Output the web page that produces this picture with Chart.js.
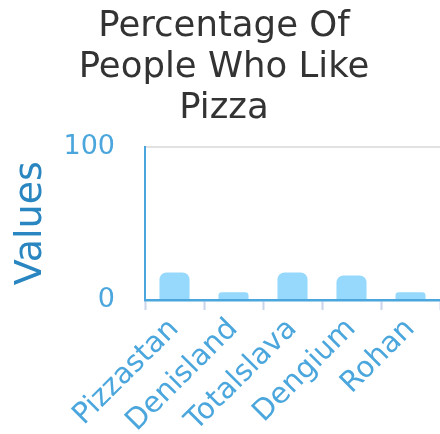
<!DOCTYPE html>
<html>
<head>
<meta charset="utf-8">
<script src="https://cdn.jsdelivr.net/npm/chart.js@4"></script>
<style>
  html, body { margin: 0; padding: 0; background: #fff; }
  #wrap { width: 440px; height: 434px; }
</style>
</head>
<body>
<div id="wrap"><canvas id="grafico"></canvas></div>
<script>
const paises = ['Pizzastan', 'Denisland', 'Totalslava', 'Dengium', 'Rohan'];
const valores = [18, 5, 18, 16, 5];
const tituloLineas = ['Percentage Of', 'People Who Like', 'Pizza'];
const tituloEjeY = 'Values';

const azul = '#4aa6dc';

var ctx = document.getElementById('grafico').getContext('2d');
var grafico = new Chart(ctx, {
    type: 'bar',
    data: {
        labels: paises,
        datasets: [{
            label: 'Values',
            data: valores,
            backgroundColor: '#97d9fd',
            borderWidth: 0,
            borderRadius: { topLeft: 7, topRight: 7 },
            borderSkipped: 'bottom',
            barPercentage: 0.51,
            categoryPercentage: 1
        }]
    },
    options: {
        responsive: true,
        maintainAspectRatio: false,
        animation: false,
        layout: { padding: { left: 8, right: 0, top: 0, bottom: 0 } },
        plugins: {
            legend: { display: false },
            tooltip: { enabled: false },
            title: {
                display: true,
                text: tituloLineas,
                color: '#333333',
                font: { family: 'DejaVu Sans', size: 35.5, weight: 'normal', lineHeight: 1.16 },
                padding: { top: 6, bottom: 17 }
            }
        },
        scales: {
            x: {
                grid: {
                    offset: true,
                    drawOnChartArea: false,
                    drawTicks: true,
                    tickLength: 10,
                    tickWidth: 2,
                    tickColor: '#c9d5ea'
                },
                border: { color: azul, width: 2.5 },
                ticks: {
                    color: azul,
                    maxRotation: 45,
                    minRotation: 45,
                    autoSkip: false,
                    padding: 2,
                    font: { family: 'DejaVu Sans', size: 29 }
                },
                // alto fijo para que el eje quede donde en el original
                afterFit: function (scale) { scale.height = 134; }
            },
            y: {
                min: 0,
                max: 100,
                ticks: {
                    stepSize: 100,
                    color: azul,
                    padding: 30,
                    font: { family: 'DejaVu Sans', size: 27 }
                },
                grid: {
                    drawTicks: false,
                    color: function (c) { return c.tick.value === 100 ? '#e2e2e2' : 'rgba(0,0,0,0)'; },
                    lineWidth: 2
                },
                border: { color: azul, width: 2 },
                title: {
                    display: true,
                    text: tituloEjeY,
                    color: '#2a86c0',
                    font: { family: 'DejaVu Sans', size: 38 },
                    padding: 0
                },
                afterFit: function (scale) { scale.width = 137; }
            }
        }
    }
});
</script>
</body>
</html>
